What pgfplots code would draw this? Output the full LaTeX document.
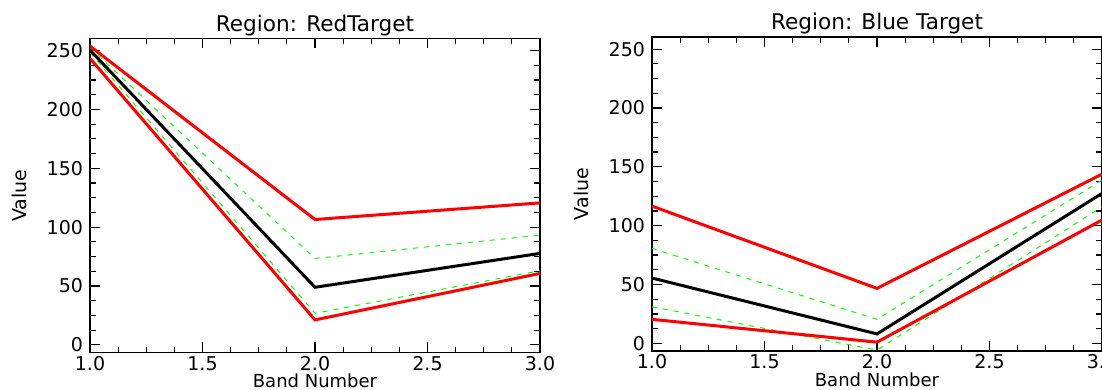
\documentclass[border=0pt]{standalone}
\usepackage{pgfplots}
\pgfplotsset{compat=1.18}
\usepackage{fontspec}
\setmainfont{DejaVu Sans}
\definecolor{idlred}{RGB}{255,0,0}
\definecolor{idlgreen}{RGB}{0,255,0}
\pgfplotsset{
  idl/.style={
    scale only axis,
    width=225pt, height=157pt,
    xmin=1, xmax=3, ymin=-6.5, ymax=260.3,
    xtick={1,1.5,2,2.5,3},
    ytick={0,50,100,150,200,250},
    minor x tick num=3, minor y tick num=3,
    major tick length=5pt, minor tick length=2.8pt,
    tick align=inside,
    axis line style={line width=0.6pt},
    every tick/.style={line width=0.6pt, black},
    xticklabel style={/pgf/number format/fixed,/pgf/number format/fixed zerofill,/pgf/number format/precision=1, font=\fontsize{9.5}{10}\selectfont, inner sep=0.5pt, yshift=-1.2pt},
    yticklabel style={font=\fontsize{9.5}{10}\selectfont},
    /pgf/number format/assume math mode=true,
    xlabel={Band Number}, ylabel={Value},
    label style={font=\fontsize{9.5}{11}\selectfont},
    xlabel style={at={(axis description cs:0.5,-0.112)}, anchor=base, inner sep=0pt, font=\fontsize{9}{10}\selectfont},
    ylabel style={at={(axis description cs:-0.156,0.5)}, anchor=center},
    every axis title shift=0pt,
    title style={at={(axis description cs:0.5,1)}, anchor=base, yshift=3.7pt, font=\fontsize{10.8}{12}\selectfont},
    clip=true,
  },
  redl/.style={idlred, line width=1.5pt},
  blkl/.style={black, line width=1.5pt},
  grnl/.style={idlgreen, line width=0.5pt, dash pattern=on 2.5pt off 3pt},
}
\begin{document}
\begin{tikzpicture}
\useasboundingbox (0,0) rectangle (551pt,195pt);
\begin{axis}[idl, at={(45pt,18.75pt)}, anchor=south west, title={Region: RedTarget}]
\addplot[grnl] coordinates {(1,252.5) (2,73.4) (3,93.2)};
\addplot[grnl] coordinates {(1,248.3) (2,26.8) (3,63.0)};
\addplot[redl] coordinates {(1,253.8) (2,106.5) (3,120.6)};
\addplot[redl] coordinates {(1,243.4) (2,21.2) (3,60.7)};
\addplot[blkl] coordinates {(1,250.4) (2,48.9) (3,77.7)};
\end{axis}
\begin{axis}[idl, at={(326pt,19.5pt)}, anchor=south west, title={Region: Blue Target}]
\addplot[grnl] coordinates {(1,80.7) (2,20.4) (3,138.7)};
\addplot[grnl] coordinates {(1,31.1) (2,-5.7) (3,116.0)};
\addplot[redl] coordinates {(1,116.6) (2,46.7) (3,143.8)};
\addplot[redl] coordinates {(1,20.4) (2,1.0) (3,104.8)};
\addplot[blkl] coordinates {(1,55.5) (2,8.0) (3,127.4)};
\end{axis}
\end{tikzpicture}
\end{document}
